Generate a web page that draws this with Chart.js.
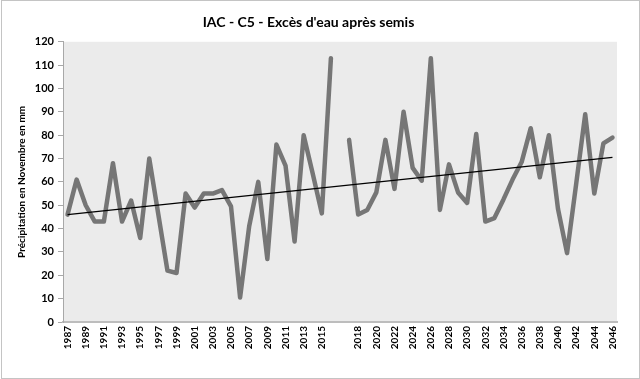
<!DOCTYPE html>
<html>
<head>
<meta charset="utf-8">
<script src="https://cdn.jsdelivr.net/npm/chart.js@4/dist/chart.umd.min.js"></script>
<style>
  html, body { margin: 0; padding: 0; background: #ffffff; }
  #c { display: block; }
</style>
</head>
<body>
<canvas id="c" width="640" height="379"></canvas>
<script>
// Categories (blank category separates the two periods)
const categories = [
  '1987','1988','1989','1990','1991','1992','1993','1994','1995','1996',
  '1997','1998','1999','2000','2001','2002','2003','2004','2005','2006',
  '2007','2008','2009','2010','2011','2012','2013','2014','2015','2016',
  '',
  '2017','2018','2019','2020','2021','2022','2023','2024','2025','2026',
  '2027','2028','2029','2030','2031','2032','2033','2034','2035','2036',
  '2037','2038','2039','2040','2041','2042','2043','2044','2045','2046'
];

// Précipitation en Novembre (mm)
const precipitation = [
  46, 61, 50, 43, 43, 68, 43, 52, 36, 70,
  46, 22, 21, 55, 49, 55, 55, 56.5, 49.5, 10.5,
  41, 60, 27, 76, 67, 34.5, 80, 63.5, 46.5, 113,
  null,
  78, 46, 48, 55.5, 78, 57, 90, 66, 60.5, 113,
  48, 67.5, 55.5, 51, 80.5, 43, 44.5, 52.5, 61, 68.5,
  83, 62, 80, 48.5, 29.5, 59, 89, 55, 76.5, 79
];

// Linear trend line, read at its two ends
const trendStart = 46;
const trendEnd = 70.5;

// Y tick labels
const yTicks = [0, 10, 20, 30, 40, 50, 60, 70, 80, 90, 100, 110, 120];

const trend = categories.map((c, i) => i === 0 ? trendStart : (i === categories.length - 1 ? trendEnd : null));

const FONT = 'Lato, "Open Sans", "DejaVu Sans", sans-serif';

const bgPlugin = {
  id: 'bg',
  beforeDraw(chart) {
    const { ctx, chartArea: a } = chart;
    ctx.save();
    ctx.fillStyle = '#ffffff';
    ctx.fillRect(0, 0, chart.width, chart.height);
    ctx.fillStyle = '#ebebeb';
    ctx.fillRect(a.left, a.top, a.right - a.left, a.bottom - a.top);
    ctx.strokeStyle = '#c4c4c4';
    ctx.lineWidth = 1;
    ctx.strokeRect(1.5, 0.5, chart.width - 2, chart.height - 1);
    ctx.restore();
  }
};

new Chart(document.getElementById('c'), {
  type: 'line',
  data: {
    labels: categories,
    datasets: [
      {
        label: 'Précipitation',
        data: precipitation,
        borderColor: '#767676',
        borderWidth: 4.5,
        borderJoinStyle: 'round',
        borderCapStyle: 'round',
        pointRadius: 0,
        tension: 0,
        spanGaps: false,
        fill: false,
        order: 2
      },
      {
        label: 'Tendance',
        data: trend,
        borderColor: '#000000',
        borderWidth: 1.2,
        pointRadius: 0,
        tension: 0,
        spanGaps: true,
        fill: false,
        order: 1
      }
    ]
  },
  options: {
    responsive: false,
    animation: false,
    layout: { padding: { left: 0, right: 23, top: 0, bottom: 0 } },
    plugins: {
      legend: { display: false },
      tooltip: { enabled: false },
      title: {
        display: true,
        text: "IAC - C5 - Excès d'eau après semis",
        color: '#000000',
        font: { family: FONT, size: 14, weight: 'bold' },
        padding: { top: 14, bottom: 11 }
      }
    },
    scales: {
      x: {
        type: 'category',
        offset: true,
        grid: { display: false, drawTicks: false },
        border: { display: true, color: '#bdbdbd', width: 2 },
        ticks: {
          autoSkip: false,
          minRotation: 90,
          maxRotation: 90,
          padding: 4,
          color: '#000000',
          font: { family: FONT, size: 10, weight: 'bold' },
          callback: function (v, i) { return i % 2 === 0 ? categories[i] : ''; }
        },
        afterFit(s) { s.height = 57; }
      },
      y: {
        min: 0,
        max: 120,
        afterBuildTicks(s) { s.ticks = yTicks.map(v => ({ value: v })); },
        grid: { display: true, drawOnChartArea: false, drawTicks: true, tickLength: 5, color: '#a8a8a8' },
        border: { display: true, color: '#a8a8a8', width: 1 },
        ticks: {
          padding: 4,
          color: '#000000',
          font: { family: FONT, size: 11, weight: 'bold' }
        },
        title: {
          display: true,
          text: 'Précipitation en Novembre en mm',
          color: '#000000',
          font: { family: FONT, size: 10, weight: 'bold' },
          padding: { top: 16, bottom: 0 }
        },
        afterFit(s) { s.width = 63; }
      }
    }
  },
  plugins: [bgPlugin]
});
</script>
</body>
</html>
